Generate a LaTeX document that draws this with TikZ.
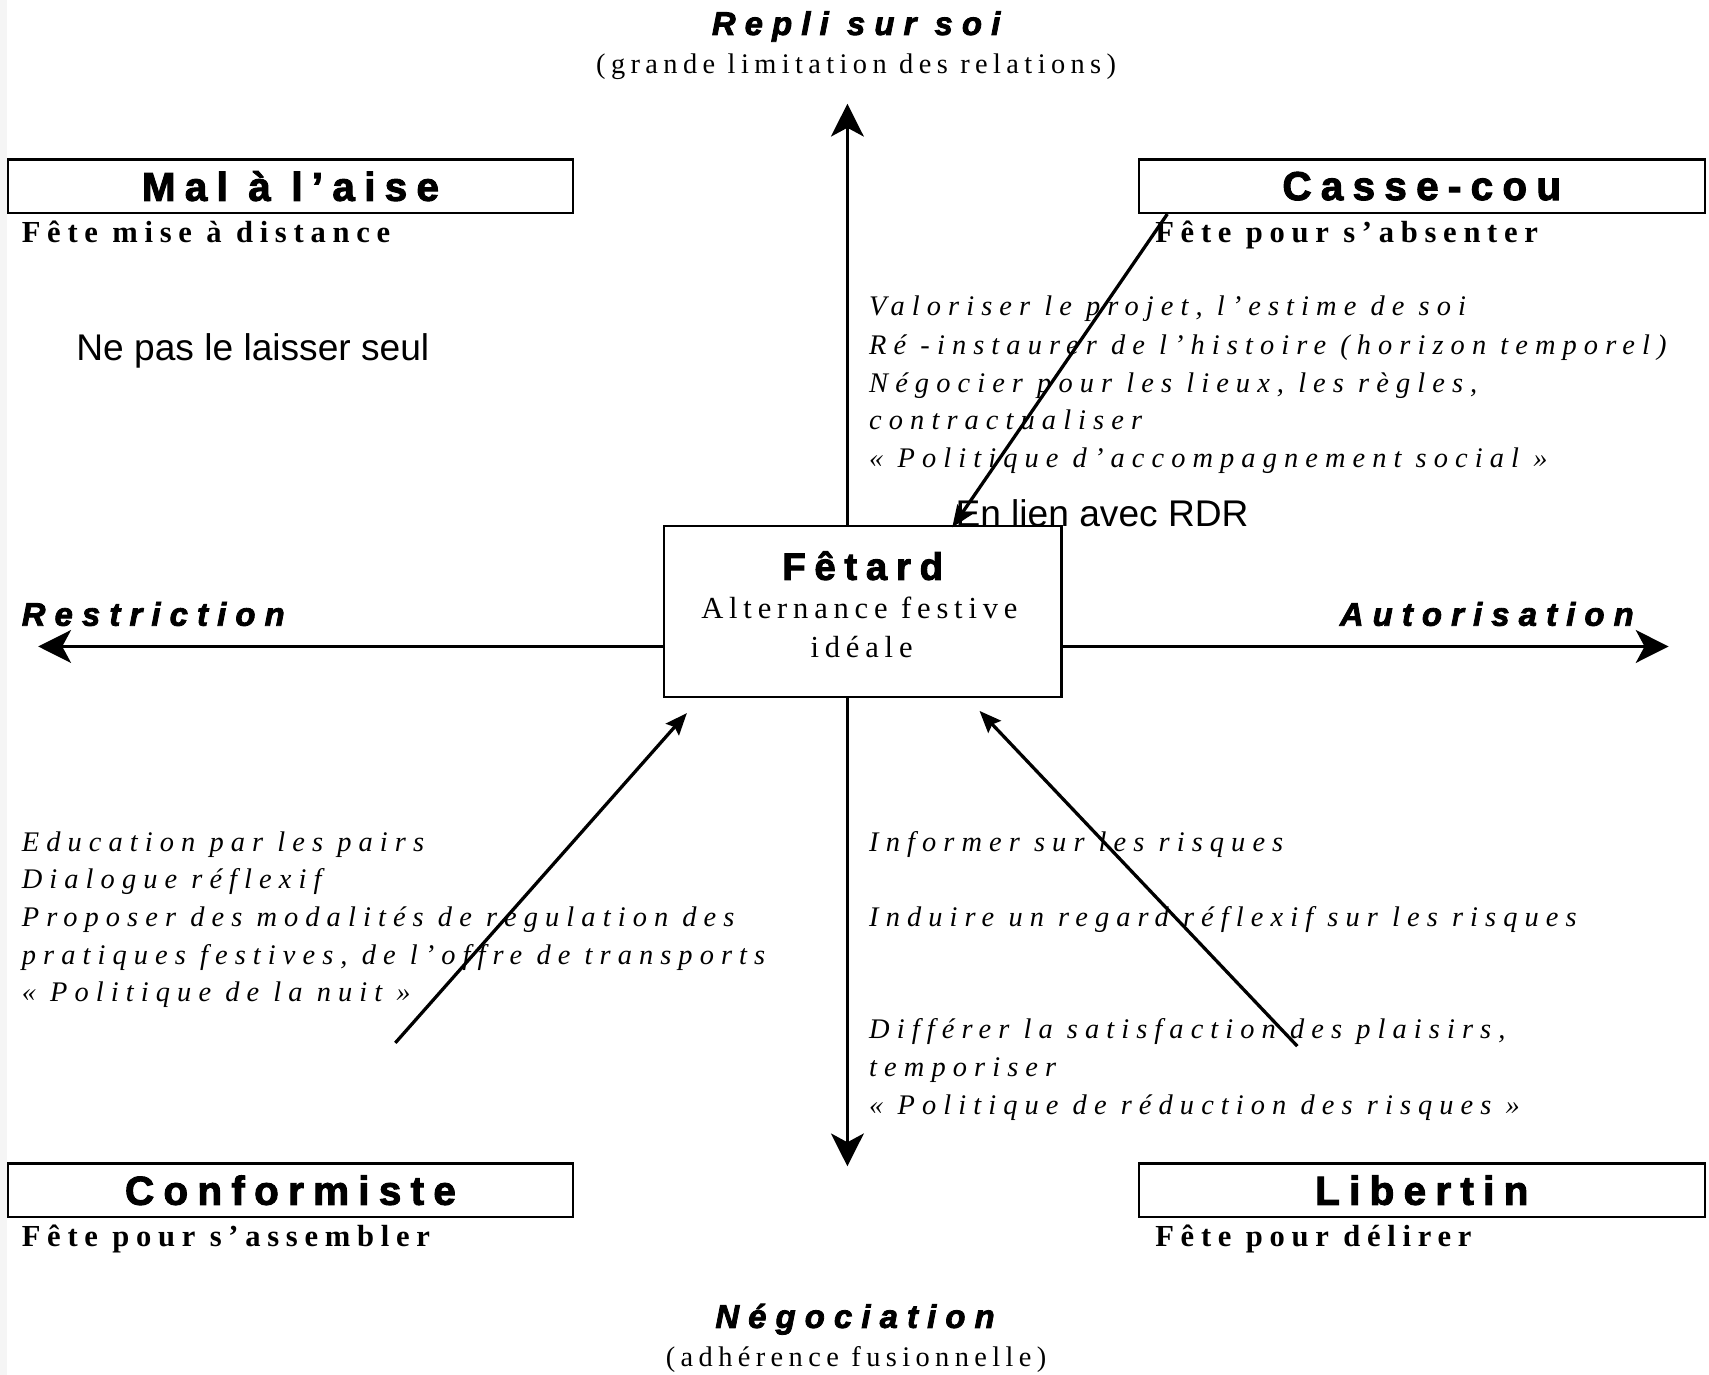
\documentclass[tikz,border=0pt]{standalone}
\usepackage{fontspec}
\setmainfont{Liberation Serif}
\newfontfamily\serL{Liberation Serif}[LetterSpace=19]
\newfontfamily\serB{Liberation Serif Bold}[LetterSpace=22]
\newfontfamily\serI{Liberation Serif Italic}[LetterSpace=25]
\newfontfamily\blk{Liberation Sans Bold}[LetterSpace=23, FakeBold=2.5]
\newfontfamily\blki{Liberation Sans Bold Italic}[LetterSpace=28, FakeBold=2.5]
\newfontfamily\arl{Liberation Sans}
\usetikzlibrary{arrows.meta,calc}
\begin{document}
\begin{tikzpicture}[x=0.5pt,y=-0.5pt,
  box/.style={draw, line width=1pt, fill=white, inner sep=0pt},
  boxtitle/.style={box, minimum width=259pt, minimum height=24.5pt, font=\blk\fontsize{18.5}{21}\selectfont},
  axis/.style={line width=1.5pt, -{Stealth[length=15pt,width=15pt,inset=4pt]}},
  link/.style={line width=1.5pt, -{Stealth[length=10pt,width=8pt,inset=1.5pt]}},
  lt/.style={anchor=base west, inner sep=0pt, outer sep=0pt},
  ct/.style={anchor=base, inner sep=0pt, outer sep=0pt},
  dir/.style={font=\blki\fontsize{15}{18}\selectfont},
  paren/.style={font=\serL\fontsize{13}{15}\selectfont},
  sub/.style={font=\serB\fontsize{14}{16}\selectfont},
  itx/.style={lt, font=\serI\fontsize{13}{15}\selectfont},
  note/.style={lt, font=\arl\fontsize{17}{20}\selectfont}]
\useasboundingbox (0,0) rectangle (1565,1259);
\fill[gray!8] (0,0) rectangle (6,1259);

% axis end points
\coordinate (ntop) at (776,95);
\coordinate (nbot) at (776,1068);
\coordinate (wl) at (35,592);
\coordinate (er) at (1528,592);

% central box
\node[box, minimum width=182pt, minimum height=78pt] (fetard) at (790,560) {};

% axes
\draw[axis] (ntop |- fetard.north) -- (ntop);
\draw[axis] (nbot |- fetard.south) -- (nbot);
\draw[axis] (fetard.west |- wl) -- (wl);
\draw[axis] (fetard.east |- er) -- (er);

% corner boxes
\node[boxtitle] (malaise) at (266,170.5) {Mal à l’aise};
\node[boxtitle] (cassecou) at (1302,170.5) {Casse-cou};
\node[boxtitle] (conform) at (266,1090) {Conformiste};
\node[boxtitle] (libertin) at (1302,1090) {Libertin};

% central texts
\node[ct, font=\blk\fontsize{17.5}{20}\selectfont] (fetT) at (790,531) {Fêtard};
\node[ct, font=\serL\fontsize{14}{16}\selectfont] (fetA) at (787,566) {Alternance festive};
\node[ct, font=\serL\fontsize{14}{16}\selectfont] (fetB) at (789,602) {idéale};

% axis labels
\node[ct, dir] (repli) at (784,32) {Repli sur soi};
\node[ct, paren] (repliP) at (784,67) {(grande limitation des relations)};
\node[ct, dir] (nego) at (783,1216) {Négociation};
\node[ct, paren] (negoP) at (784,1251) {(adhérence fusionnelle)};
\node[lt, dir] (restr) at (20,573) {Restriction};
\node[lt, dir] (autor) at (1227,573) {Autorisation};

% subtitles
\node[lt, sub] (s1) at (20,222) {Fête mise à distance};
\node[lt, sub] (s2) at (1058,222) {Fête pour s’absenter};
\node[lt, sub] (s3) at (20,1141) {Fête pour s’assembler};
\node[lt, sub] (s4) at (1058,1141) {Fête pour délirer};

% notes
\node[note] (n1) at (70,330) {Ne pas le laisser seul};
\node[note] (n2) at (875,482) {En lien avec RDR};

% top-right block
\node[itx] (tr1) at (796,289) {Valoriser le projet, l’estime de soi};
\node[itx] (tr2) at (796,325) {Ré -instaurer de l’histoire (horizon temporel)};
\node[itx] (tr3) at (796,359) {Négocier pour les lieux, les règles,};
\node[itx] (tr4) at (796,393) {contractualiser};
\node[itx] (tr5) at (796,428) {« Politique d’accompagnement social »};

% bottom-left block
\node[itx] (bl1) at (20,780) {Education par les pairs};
\node[itx] (bl2) at (20,814) {Dialogue réflexif};
\node[itx] (bl3) at (20,848) {Proposer des modalités de régulation des};
\node[itx] (bl4) at (20,883) {pratiques festives, de l’offre de transports};
\node[itx] (bl5) at (20,917) {« Politique de la nuit »};

% bottom-right block
\node[itx] (br1) at (796,780) {Informer sur les risques};
\node[itx] (br2) at (796,848) {Induire un regard réflexif sur les risques};
\node[itx] (br3) at (796,951) {Différer la satisfaction des plaisirs,};
\node[itx] (br4) at (796,986) {temporiser};
\node[itx] (br5) at (796,1021) {« Politique de réduction des risques »};

% diagonal arrows
\coordinate (blstart) at (362,955);
\coordinate (brstart) at (1188,958);
\draw[link] ($(cassecou.south west)+(27,0)$) -- ($(fetard.north west)+(265,2)$);
\draw[link] (blstart) -- ($(fetard.south west)+(22,14)$);
\draw[link] (brstart) -- ($(fetard.south west)+(290,12)$);
\end{tikzpicture}
\end{document}
